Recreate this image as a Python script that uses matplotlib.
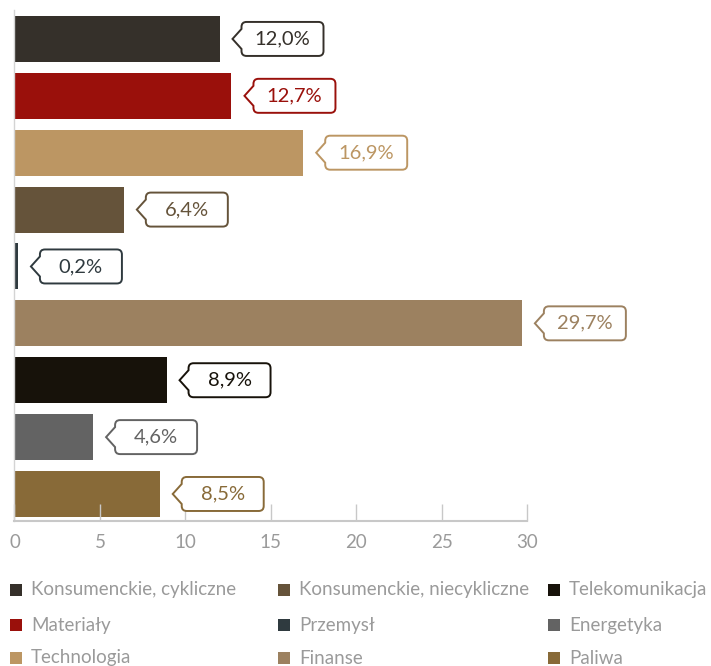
import matplotlib
matplotlib.use('Agg')
import matplotlib.pyplot as plt
from matplotlib.path import Path
from matplotlib.patches import PathPatch, Rectangle
from matplotlib.transforms import Affine2D, ScaledTranslation

categories = ['Konsumenckie, cykliczne', 'Materiały', 'Technologia',
              'Konsumenckie, niecykliczne', 'Przemysł', 'Finanse',
              'Telekomunikacja', 'Energetyka', 'Paliwa']
values = [12.0, 12.7, 16.9, 6.4, 0.2, 29.7, 8.9, 4.6, 8.5]
labels = ['12,0%', '12,7%', '16,9%', '6,4%', '0,2%', '29,7%', '8,9%', '4,6%', '8,5%']
colors = ['#35302a', '#9a100b', '#bc9663', '#65533a', '#2f3a3f',
          '#9c8160', '#17120a', '#636363', '#886a38']
xticks = [0, 5, 10, 15, 20, 25, 30]

plt.rcParams['font.family'] = ['Lato', 'DejaVu Sans']

fig = plt.figure(figsize=(7.11, 6.66), dpi=100)
ax = fig.add_axes([14.5 / 711, 1 - 521 / 666, 512.5 / 711, 510.5 / 666])

ypos = list(range(len(values)))
ax.barh(ypos, values, height=0.81, color=colors)
ax.set_xlim(0, 30)
ax.set_ylim(len(values) - 0.525, -0.5)

for s in ['top', 'right']:
    ax.spines[s].set_visible(False)
ax.spines['left'].set_color('#d4d4d4')
ax.spines['left'].set_linewidth(1.0)
ax.spines['bottom'].set_color('#c8c8c8')
ax.spines['bottom'].set_linewidth(1.5)
ax.set_yticks([])
ax.set_xticks(xticks)
ax.tick_params(axis='x', direction='in', length=12, width=1.0, color='#c8c8c8',
               labelcolor='#9a9a9a', labelsize=13.5, pad=9)

# callout shapes, in pixels relative to the bar end
x0, x1, y0, y1, r, h, tip = 22, 104, -17, 17, 5, 10, 13
verts = [(x0, h), (x0, y1 - r), (x0, y1), (x0 + r, y1), (x1 - r, y1), (x1, y1),
         (x1, y1 - r), (x1, y0 + r), (x1, y0), (x1 - r, y0), (x0 + r, y0),
         (x0, y0), (x0, y0 + r), (x0, -h), (tip, 0), (x0, h)]
codes = [Path.MOVETO, Path.LINETO, Path.CURVE3, Path.CURVE3, Path.LINETO,
         Path.CURVE3, Path.CURVE3, Path.LINETO, Path.CURVE3, Path.CURVE3,
         Path.LINETO, Path.CURVE3, Path.CURVE3, Path.LINETO, Path.LINETO,
         Path.CLOSEPOLY]
shape = Path(verts, codes)

for i, (v, lab, c) in enumerate(zip(values, labels, colors)):
    tr = Affine2D() + ScaledTranslation(v, i, ax.transData)
    p = PathPatch(shape, transform=tr, facecolor='white', edgecolor=c,
                  linewidth=1.4, clip_on=False, zorder=3)
    ax.add_patch(p)
    ax.annotate(lab, xy=(v, i), xytext=((x0 + x1) / 2, 0), textcoords='offset pixels',
                ha='center', va='center', fontsize=14.5, color=c, zorder=4)

# legend, three columns filled top to bottom
col_x = [10, 278, 548]
row_y = [590, 625, 658]
for i, (cat, c) in enumerate(zip(categories, colors)):
    cx = col_x[i // 3]
    cy = row_y[i % 3]
    fig.patches.append(Rectangle((cx / 711, 1 - (cy + 6) / 666), 12 / 711, 12 / 666,
                                 transform=fig.transFigure, facecolor=c, edgecolor='none'))
    fig.text((cx + 21) / 711, 1 - cy / 666, cat, ha='left', va='center',
             fontsize=13.5, color='#9a9a9a')

fig.savefig('out.png', dpi=100)
